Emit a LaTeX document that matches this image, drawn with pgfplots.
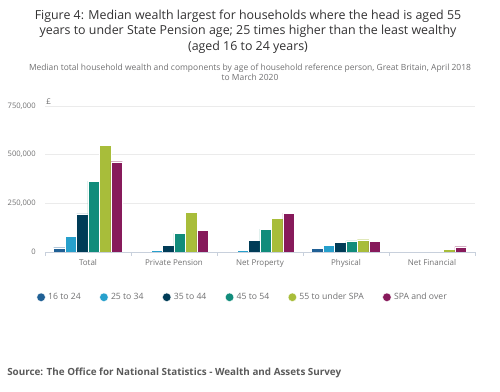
\documentclass[border=0pt]{standalone}
\usepackage{fontspec}
\setmainfont{Open Sans}
\usepackage{pgfplots}
\pgfplotsset{compat=1.18}
\definecolor{cA}{HTML}{206095}
\definecolor{cB}{HTML}{27A0CC}
\definecolor{cC}{HTML}{003C57}
\definecolor{cD}{HTML}{118C7B}
\definecolor{cE}{HTML}{A8BD3A}
\definecolor{cF}{HTML}{871A5B}
\definecolor{txtgray}{HTML}{707071}
\definecolor{titlecol}{HTML}{323132}
\definecolor{axcol}{HTML}{C8D0DC}
\definecolor{gridcol}{HTML}{EBEBEB}
\definecolor{srccol}{HTML}{5A5A5A}
\begin{document}
\begin{tikzpicture}
\useasboundingbox (0,0) rectangle (375pt,294pt);
\node[align=center, font=\fontsize{9.3pt}{11.6pt}\selectfont, text=titlecol] at (186pt,270.5pt)
 {Figure 4: Median wealth largest for households where the head is aged 55\\years to under State Pension age; 25 times higher than the least wealthy\\(aged 16 to 24 years)};
\node[align=center, font=\fontsize{6.35pt}{7.4pt}\selectfont, text=txtgray] at (187.5pt,239.5pt)
 {Median total household wealth and components by age of household reference person, Great Britain, April 2018\\to March 2020};
\node[font=\fontsize{6pt}{7pt}\selectfont, text=txtgray, anchor=west, inner sep=0pt] at (34.5pt,217.5pt) {£};
\node[font=\bfseries\fontsize{7.4pt}{8pt}\selectfont, text=srccol, anchor=base west, inner sep=0pt] at (5.25pt,12pt)
 {Source: The Office for National Statistics - Wealth and Assets Survey};
\begin{axis}[
  at={(33.75pt,105pt)}, anchor=south west,
  scale only axis, width=322.5pt, height=109.5pt,
  ymin=0, ymax=750000, xmin=-0.5, xmax=4.5,
  ybar=0pt, bar width=8.6pt,
  axis line style={draw=none},
  xtick pos=bottom, ytick pos=left,
  xtick={-0.5,0.5,1.5,2.5,3.5,4.5},
  xticklabels={},
  xtick align=outside,
  major tick length=3pt,
  xtick style={axcol, line width=0.6pt},
  extra x ticks={0,1,2,3,4},
  extra x tick labels={Total,Private Pension,Net Property,Physical,Net Financial},
  extra x tick style={major tick length=0pt, tick label style={font=\fontsize{6pt}{7pt}\selectfont, text=txtgray, yshift=-2pt}},
  scaled y ticks=false,
  ytick={0,250000,500000,750000},
  yticklabels={0,{250,000},{500,000},{750,000}},
  yticklabel style={font=\fontsize{5.7pt}{7pt}\selectfont, text=txtgray, xshift=-3.5pt},
  ymajorgrids, grid style={gridcol, line width=0.6pt},
  ytick style={draw=none},
  clip=false,
  legend columns=6,
  legend style={draw=none, fill=none, at={(-0.02,-0.31)}, anchor=west, inner sep=0pt,
    font=\fontsize{6.5pt}{7pt}\selectfont, text=txtgray,
    /tikz/every even column/.append style={column sep=12pt}},
  legend image code/.code={\fill[#1] (0.1cm,0cm) circle (3.2pt);},
]
\addplot[fill=cA, draw=white, line width=0.25pt] coordinates {(0,22000) (3,19000)};
\addplot[fill=cB, draw=white, line width=0.25pt] coordinates {(0,79000) (1,10000) (2,10000) (3,35000)};
\addplot[fill=cC, draw=white, line width=0.25pt] coordinates {(0,196000) (1,35000) (2,59000) (3,50000)};
\addplot[fill=cD, draw=white, line width=0.25pt] coordinates {(0,364000) (1,96000) (2,118000) (3,57000)};
\addplot[fill=cE, draw=white, line width=0.25pt] coordinates {(0,548000) (1,203000) (2,174000) (3,63000) (4,15000)};
\addplot[fill=cF, draw=white, line width=0.25pt] coordinates {(0,464000) (1,110000) (2,200000) (3,55000) (4,27000)};
\legend{16 to 24,25 to 34,35 to 44,45 to 54,55 to under SPA,SPA and over}
\draw[axcol, line width=0.6pt] (rel axis cs:0,0) -- (rel axis cs:1,0);
\end{axis}
\end{tikzpicture}
\end{document}
